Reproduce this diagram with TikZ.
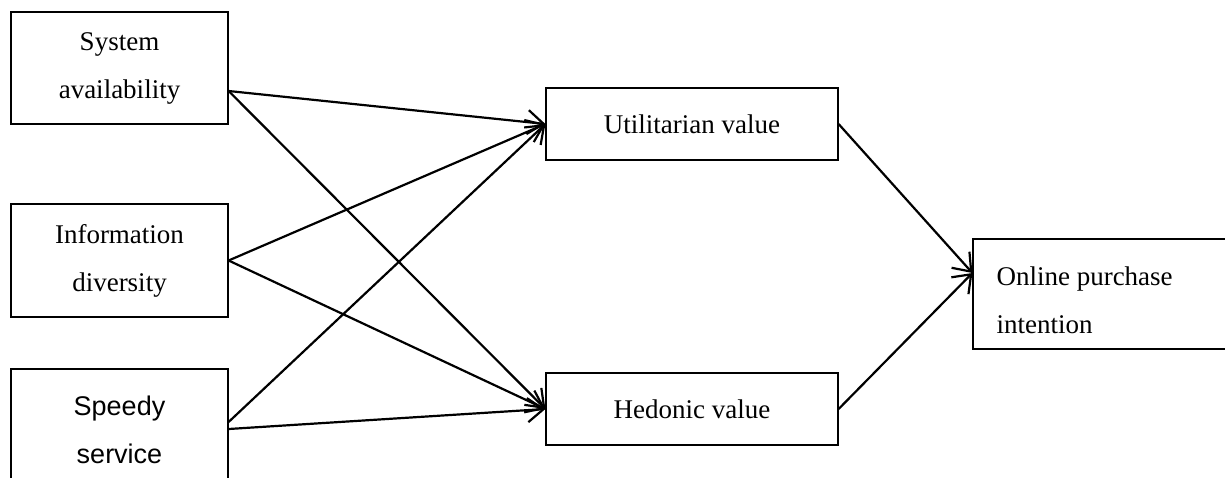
\documentclass[tikz,border=0pt]{standalone}
\usepackage{fontspec}
\setmainfont{Liberation Serif}
\newfontfamily\arialfont{Liberation Sans}
\usetikzlibrary{arrows.meta}

\begin{document}
\begin{tikzpicture}[x=0.5pt,y=-0.5pt,>={Straight Barb[length=8pt,width=12pt]},
    box/.style={draw,line width=0.6pt,rectangle,inner sep=0pt,align=center,
                font=\fontsize{13.5}{24}\selectfont},
    twoline/.style={box,execute at begin node={\rule{0pt}{16pt}}},
    link/.style={->,line width=1.1pt}]
      %  \draw[red] (0,0) rectangle (1225,477);
        \useasboundingbox (0,0) rectangle (1225,477);
        % left side
        \node[twoline,minimum width=108.5pt,minimum height=56pt] (sys) at (119.5,68)
            {System\\availability};
        \node[twoline,minimum width=108.5pt,minimum height=56.5pt] (info) at (119.5,260.5)
            {Information\\diversity};
        \node[twoline,minimum width=108.5pt,minimum height=61pt] (speed) at (119.5,430)
            {\arialfont Speedy\\\arialfont service};
        % middle
        \node[box,minimum width=146pt,minimum height=36pt] (util) at (692,124)
            {Utilitarian value};
        \node[box,minimum width=146pt,minimum height=36pt] (hed) at (692,409)
            {Hedonic value};
        % right
        \node[twoline,minimum width=128.5pt,minimum height=55pt,text width=105pt,
              align=flush left,inner xsep=11.75pt] (buy) at (1101.5,294)
            {Online purchase\\intention};
        % links
        \draw[link] ([yshift=-11.5pt]sys.east) -- (util.west);
        \draw[link] ([yshift=-11.5pt]sys.east) -- (hed.west);
        \draw[link] (info.east) -- (util.west);
        \draw[link] (info.east) -- (hed.west);
        \draw[link] ([yshift=4pt]speed.east) -- (util.west);
        \draw[link] ([yshift=0.5pt]speed.east) -- (hed.west);
        \draw[link] (util.east) -- ([yshift=10.5pt]buy.west);
        \draw[link] (hed.east) -- ([yshift=10.5pt]buy.west);
      \end{tikzpicture}
\end{document}
